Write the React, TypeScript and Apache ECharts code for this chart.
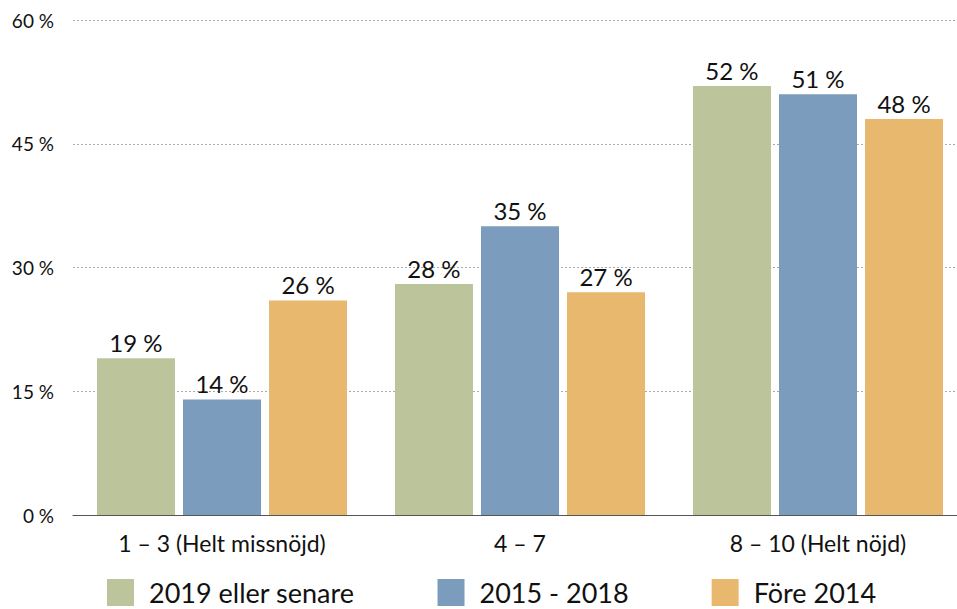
import React, { useEffect, useRef } from "react";
import * as echarts from "echarts";

const categories = ["1 – 3 (Helt missnöjd)", "4 – 7", "8 – 10 (Helt nöjd)"];
const seriesNames = ["2019 eller senare", "2015 - 2018", "Före 2014"];
const values2019 = [19, 28, 52];
const values2015 = [14, 35, 51];
const valuesFore = [26, 27, 48];
const colors = ["#bcc49b", "#7b9cbc", "#e8b86e"];
const FONT = "Lato, 'Open Sans', sans-serif";

export default function App() {
  const ref = useRef<HTMLDivElement>(null);
  useEffect(() => {
    document.body.style.margin = "0";
    if (!ref.current) return;
    const chart = echarts.init(ref.current, null, { renderer: "svg" });
    const data = [values2019, values2015, valuesFore];
    chart.setOption({
      animation: false,
      textStyle: { fontFamily: FONT },
      grid: { left: 73, right: 13, top: 20, bottom: 94, containLabel: false },
      legend: {
        left: 107,
        top: 579,
        padding: 0,
        itemWidth: 27,
        itemHeight: 27,
        itemGap: 83,
        icon: "rect",
        textStyle: { fontSize: 27, lineHeight: 24, color: "#111", fontFamily: FONT, padding: [0, 0, 0, 10] },
        data: seriesNames,
      },
      xAxis: {
        type: "category",
        data: categories,
        axisLine: { lineStyle: { color: "#555", width: 1.2 } },
        axisTick: { show: false },
        axisLabel: { fontSize: 23, color: "#111", margin: 16, fontFamily: FONT },
      },
      yAxis: {
        type: "value",
        min: 0,
        max: 60,
        interval: 15,
        axisLabel: { formatter: "{value} %", fontSize: 19, color: "#111", margin: 19, fontFamily: FONT },
        splitLine: { lineStyle: { type: [2, 2], color: "#aaa", width: 1 } },
        axisLine: { show: false },
        axisTick: { show: false },
      },
      series: seriesNames.map((name, i) => ({
        name,
        type: "bar",
        data: data[i],
        barWidth: 78,
        barGap: "10.3%",
        itemStyle: { color: colors[i] },
        label: {
          show: true,
          position: "top",
          distance: 4,
          formatter: "{c} %",
          fontSize: 24,
          color: "#111",
          fontFamily: FONT,
        },
      })),
    });
    return () => chart.dispose();
  }, []);
  return (
    <div style={{ width: 957, height: 609, overflow: "hidden", position: "relative" }}>
      <div ref={ref} style={{ width: 980, height: 609 }} />
    </div>
  );
}
